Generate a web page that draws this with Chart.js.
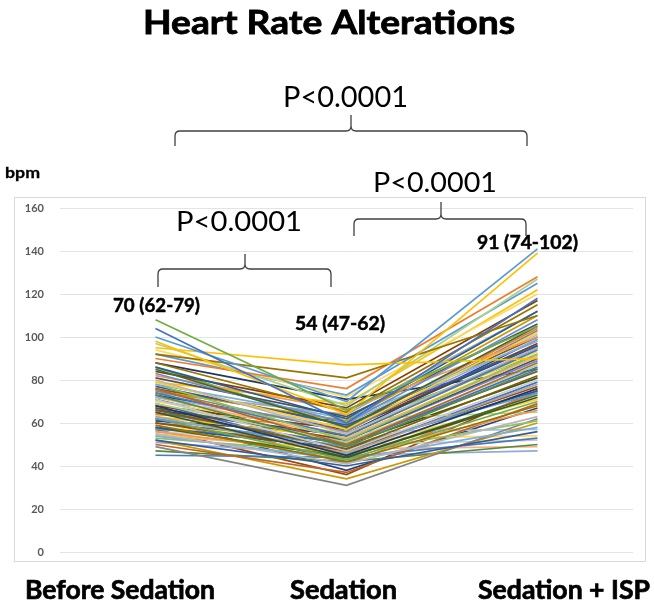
<!DOCTYPE html>
<html>
<head>
<meta charset="utf-8">
<script src="https://cdn.jsdelivr.net/npm/chart.js@4.4.1/dist/chart.umd.min.js"></script>
<style>
  html, body { margin: 0; padding: 0; background: #fff; }
</style>
</head>
<body>
<canvas id="mychart" width="654" height="604"></canvas>
<script>
const categories = ['Before Sedation', 'Sedation', 'Sedation + ISP'];

// heart rate (bpm) per patient, one entry per line
const beforeSedation = [
  108, 104, 100, 98, 95, 92, 90, 97, 94, 88,
  86, 85, 83, 82, 80, 79, 78, 78, 77, 76,
  75, 75, 74, 73, 72, 72, 71, 70, 70, 69,
  68, 68, 67, 66, 66, 65, 65, 64, 63, 63,
  62, 62, 61, 60, 60, 59, 58, 58, 57, 56,
  55, 55, 54, 53, 52, 50, 49, 52, 45, 47,
  51, 54, 56, 58, 60, 64, 88, 84, 81, 76,
  73, 71, 69, 67, 74, 79, 92, 86, 62, 57
];
const sedation = [
  66, 60, 70, 64, 87, 81, 76, 68, 72, 65,
  62, 58, 60, 66, 55, 57, 62, 52, 59, 50,
  56, 61, 54, 49, 58, 53, 47, 55, 60, 51,
  45, 57, 52, 48, 54, 44, 50, 58, 46, 53,
  49, 43, 55, 47, 51, 42, 48, 44, 52, 45,
  41, 47, 43, 46, 40, 37, 31, 34, 44, 42,
  45, 48, 50, 53, 56, 62, 71, 67, 63, 60,
  57, 50, 46, 41, 64, 69, 73, 58, 38, 36
];
const sedationIsp = [
  105, 118, 141, 139, 90, 110, 128, 127, 120, 115,
  112, 105, 108, 100, 95, 102, 98, 92, 96, 88,
  103, 110, 94, 85, 99, 91, 80, 93, 101, 87,
  76, 97, 90, 82, 95, 72, 86, 104, 78, 92,
  74, 70, 99, 77, 84, 68, 75, 73, 89, 66,
  63, 71, 58, 61, 56, 69, 62, 60, 53, 50,
  47, 49, 52, 54, 57, 65, 85, 117, 106, 100,
  96, 81, 79, 74, 112, 122, 125, 92, 67, 75
];

const palette = [
  '#4472C4', '#ED7D31', '#A5A5A5', '#FFC000', '#5B9BD5', '#70AD47',
  '#264478', '#9E480E', '#636363', '#997300', '#255E91', '#43682B',
  '#698ED0', '#F1975A', '#B7B7B7', '#FFCD33', '#7CAFDD', '#8CC168',
  '#365A9E', '#BE6426', '#848484', '#CC9A00', '#4A7DB1', '#5A8A39',
  '#8FAADC', '#F4B183', '#C9C9C9', '#FFD966', '#9DC3E6', '#A9D18E',
  '#203864', '#843C0C', '#525252', '#7F6000', '#1F4E79', '#385723'
];
// first lines picked so the extremes get the colours seen in the figure
const firstColors = ['#70AD47', '#4472C4', '#5B9BD5', '#FFC000', '#FFC000', '#997300', '#ED7D31', '#A9D18E', '#FFD966'];

const datasets = beforeSedation.map((v, i) => ({
  data: [v, sedation[i], sedationIsp[i]],
  borderColor: i < firstColors.length ? firstColors[i] : palette[i % palette.length],
  borderWidth: 1.7,
  pointRadius: 0,
  fill: false,
  tension: 0
}));

const FONT = 'Lato, "Open Sans", sans-serif';
const CAP = 0.72; // cap height of Lato, in em

// draw text so it spans x1..x2 with the given cap height
function fitText(ctx, text, weight, x1, x2, baseline, cap, heavy) {
  const size = cap / CAP;
  ctx.font = weight + ' ' + size.toFixed(2) + 'px ' + FONT;
  const w = ctx.measureText(text).width;
  ctx.save();
  ctx.translate(x1, baseline);
  ctx.scale((x2 - x1) / w, 1);
  ctx.textAlign = 'left';
  ctx.textBaseline = 'alphabetic';
  ctx.fillText(text, 0, 0);
  if (heavy) {
    ctx.lineWidth = heavy;
    ctx.strokeStyle = ctx.fillStyle;
    ctx.strokeText(text, 0, 0);
  }
  ctx.restore();
}

function brace(ctx, x1, x2, xm, y, yEnd, yTop) {
  const r = 5;
  ctx.beginPath();
  ctx.moveTo(x1, yEnd);
  ctx.lineTo(x1, y + r);
  ctx.quadraticCurveTo(x1, y, x1 + r, y);
  ctx.lineTo(xm - r, y);
  ctx.quadraticCurveTo(xm, y, xm, y - r);
  ctx.lineTo(xm, yTop);
  ctx.moveTo(xm, y - r);
  ctx.quadraticCurveTo(xm, y, xm + r, y);
  ctx.lineTo(x2 - r, y);
  ctx.quadraticCurveTo(x2, y, x2, y + r);
  ctx.lineTo(x2, yEnd);
  ctx.stroke();
}

const decorations = {
  id: 'decorations',
  beforeDraw(chart) {
    const ctx = chart.ctx;
    ctx.save();
    ctx.fillStyle = '#ffffff';
    ctx.fillRect(0, 0, chart.width, chart.height);
    ctx.strokeStyle = '#d9d9d9';
    ctx.lineWidth = 1;
    ctx.strokeRect(14.5, 197.5, 631, 364);
    ctx.restore();
  },
  afterDraw(chart) {
    const ctx = chart.ctx;
    ctx.save();
    ctx.fillStyle = '#000000';
    fitText(ctx, 'Heart Rate Alterations', 'bold', 143, 515, 34, 24, 0.8);
    fitText(ctx, 'bpm', 'bold', 5, 40, 178, 11, 0.3);

    fitText(ctx, 'P<0.0001', 'normal', 283, 408, 107, 21);
    fitText(ctx, 'P<0.0001', 'normal', 373, 497, 192, 20);
    fitText(ctx, 'P<0.0001', 'normal', 176, 302, 231, 20);

    ctx.strokeStyle = '#404040';
    ctx.lineWidth = 1.3;
    brace(ctx, 175, 527, 351, 131, 146, 115);
    brace(ctx, 354, 526, 441, 219, 236, 202);
    brace(ctx, 158, 331, 245, 269, 287, 254);

    fitText(ctx, '70 (62-79)', 'bold', 113, 200, 312, 14, 0.5);
    fitText(ctx, '54 (47-62)', 'bold', 295, 385, 330, 14, 0.5);
    fitText(ctx, '91 (74-102)', 'bold', 477, 578, 249, 14, 0.5);

    fitText(ctx, categories[0], 'bold', 25, 215, 599, 19, 0.7);
    fitText(ctx, categories[1], 'bold', 290, 397, 599, 19, 0.7);
    fitText(ctx, categories[2], 'bold', 478, 650, 599, 19, 0.7);
    ctx.restore();
  }
};

const ctx = document.getElementById('mychart');
var chart = new Chart(ctx, {
  type: 'line',
  data: {
    labels: categories,
    datasets: datasets
  },
  options: {
    responsive: false,
    animation: false,
    layout: {
      padding: { top: 208, right: 21, bottom: 52, left: 0 }
    },
    plugins: {
      legend: { display: false },
      tooltip: { enabled: false }
    },
    scales: {
      x: {
        display: false,
        offset: true
      },
      y: {
        min: 0,
        max: 160,
        afterFit: (scale) => { scale.width = 60; },
        border: { display: false },
        grid: {
          color: '#e4e4e4',
          drawTicks: false
        },
        ticks: {
          stepSize: 20,
          padding: 16,
          color: '#595959',
          font: { size: 11, weight: 'bold', family: FONT }
        }
      }
    }
  },
  plugins: [decorations]
});
</script>
</body>
</html>
